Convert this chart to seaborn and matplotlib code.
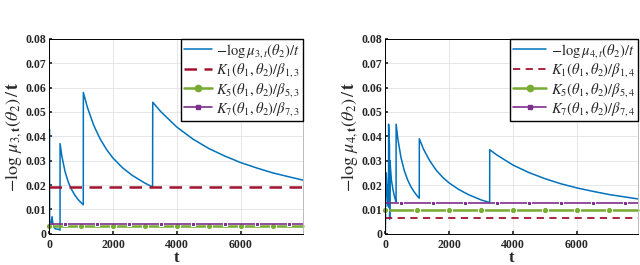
import seaborn as sns
import matplotlib.pyplot as plt
from matplotlib.lines import Line2D

# values
t_mu3 = [0, 6, 12, 20, 60, 95, 130, 200, 300, 344, 346, 400, 500, 600, 700, 800, 900, 1000,
         1072, 1074, 1200, 1400, 1600, 1800, 2000, 2300, 2600, 3000, 3240, 3245, 3500, 4000,
         4500, 5000, 5500, 6000, 6500, 7000, 7500, 7950]
mu3 = [0.08, 0.0, 0.043, 0.002, 0.004, 0.007, 0.003, 0.002, 0.0018, 0.0015, 0.037, 0.032,
       0.0256, 0.0213, 0.0183, 0.016, 0.0142, 0.0128, 0.0119, 0.058, 0.0519, 0.0445, 0.0389,
       0.0346, 0.0311, 0.0271, 0.024, 0.0208, 0.0192, 0.054, 0.0501, 0.0438, 0.0389, 0.035,
       0.0319, 0.0292, 0.027, 0.025, 0.0234, 0.022]

t_mu4 = [0, 8, 40, 90, 110, 112, 140, 145, 155, 160, 200, 250, 300, 345, 347, 400, 500, 600,
         700, 800, 900, 1000, 1070, 1072, 1200, 1400, 1600, 1800, 2000, 2300, 2600, 3000, 3270,
         3272, 3500, 4000, 4500, 5000, 5500, 6000, 6500, 7000, 7500, 7900]
mu4 = [0.08, 0.0, 0.025, 0.012, 0.011, 0.045, 0.036, 0.006, 0.03, 0.029, 0.022, 0.018, 0.015,
       0.013, 0.045, 0.039, 0.0312, 0.026, 0.0223, 0.0195, 0.0174, 0.0156, 0.0146, 0.039,
       0.0348, 0.0299, 0.0261, 0.0232, 0.0209, 0.0182, 0.0161, 0.0139, 0.0128, 0.0345, 0.0323,
       0.0282, 0.0251, 0.0226, 0.0205, 0.0188, 0.0174, 0.0161, 0.0151, 0.0143]

t_end3, t_end4 = 7950, 7900
k1_3, k5_3, k7_3 = 0.019, 0.003, 0.0042
k1_4, k5_4, k7_4 = 0.0065, 0.0098, 0.0128
k5_marks = [0, 1000, 2000, 3000, 4000, 5000, 6000, 7000]
k7_marks = [500, 1500, 2500, 3500, 4500, 5500, 6500, 7500]

xticks = [0, 2000, 4000, 6000]
yticks = [0, 0.01, 0.02, 0.03, 0.04, 0.05, 0.06, 0.07, 0.08]
ytick_labels = ["0", "0.01", "0.02", "0.03", "0.04", "0.05", "0.06", "0.07", "0.08"]

blue, red, green, purple = "#0072BD", "#A2142F", "#77AC30", "#7E2F8E"

sns.set_theme(style="whitegrid")
plt.rcParams["font.family"] = ["Liberation Serif", "DejaVu Serif"]
plt.rcParams["mathtext.fontset"] = "stix"

fig = plt.figure(figsize=(6.4, 2.65), dpi=100)
ax1 = fig.add_axes([0.0766, 0.118, 0.397, 0.735])
ax2 = fig.add_axes([0.6016, 0.118, 0.395, 0.735])


def draw(ax, t, mu, t_end, k1, k5, k7, n, lw_k1, hlen):
    dash = (0, (5, 3)) if lw_k1 > 1.5 else (0, (4, 3))
    sns.lineplot(x=t, y=mu, ax=ax, color=blue, lw=1.1, sort=False, estimator=None)
    sns.lineplot(x=[0, t_end], y=[k1, k1], ax=ax, color=red, lw=lw_k1, ls=dash)
    x5 = k5_marks + [t_end]
    sns.lineplot(x=x5, y=[k5] * len(x5), ax=ax, color=green, lw=1.8, marker="o", ms=4.5,
                 markevery=list(range(len(k5_marks))), clip_on=False, sort=False)
    x7 = [0] + k7_marks + [t_end]
    sns.lineplot(x=x7, y=[k7] * len(x7), ax=ax, color=purple, lw=1.2, marker="s", ms=3.5,
                 markevery=list(range(1, len(x7) - 1)), sort=False)

    handles = [
        Line2D([], [], color=blue, lw=1.1),
        Line2D([], [], color=red, lw=lw_k1, ls=dash),
        Line2D([], [], color=green, lw=1.8, marker="o", ms=4.5),
        Line2D([], [], color=purple, lw=1.2, marker="s", ms=3.5),
    ]
    labels = [
        r"$-\log\mu_{%d,t}(\theta_2)/t$" % n,
        r"$K_1(\theta_1,\theta_2)/\beta_{1,%d}$" % n,
        r"$K_5(\theta_1,\theta_2)/\beta_{5,%d}$" % n,
        r"$K_7(\theta_1,\theta_2)/\beta_{7,%d}$" % n,
    ]

    ax.set_xlim(0, t_end)
    ax.set_ylim(0, 0.08)
    ax.set_xticks(xticks)
    ax.set_xticklabels([str(v) for v in xticks])
    ax.set_yticks(yticks)
    ax.set_yticklabels(ytick_labels)
    ax.tick_params(labelsize=8.5, length=2, direction="in", left=True, bottom=True)
    ax.tick_params(axis="x", pad=4)
    ax.tick_params(axis="y", pad=2)
    for lab in ax.get_xticklabels() + ax.get_yticklabels():
        lab.set_fontweight("bold")
    ax.grid(color="#e3e3e3", lw=0.6)
    for s in ax.spines.values():
        s.set_color("black")
        s.set_linewidth(0.7)
    ax.spines["right"].set_color("#bbbbbb")
    ax.set_xlabel("t", fontsize=12, fontweight="bold", labelpad=-1)
    ax.set_ylabel(r"$-\log\,\mu_{%d,\mathbf{t}}(\theta_2)\,/\,\mathbf{t}$" % n, fontsize=13, labelpad=1)
    ax.legend(handles, labels, loc="upper right", borderaxespad=0, fancybox=False,
              edgecolor="black", framealpha=1, fontsize=10.5, handlelength=hlen,
              labelspacing=0.1, borderpad=0.2, handletextpad=0.3)


draw(ax1, t_mu3, mu3, t_end3, k1_3, k5_3, k7_3, 3, 1.8, 1.9)
draw(ax2, t_mu4, mu4, t_end4, k1_4, k5_4, k7_4, 4, 1.3, 2.3)

fig.savefig("out.png", dpi=100)
